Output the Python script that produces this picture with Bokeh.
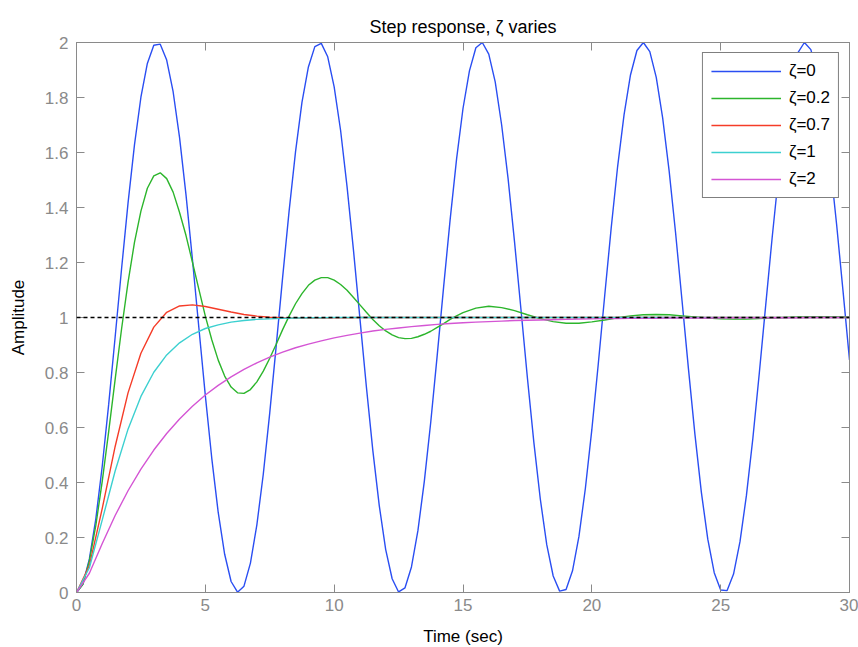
from bokeh.plotting import figure
from bokeh.models import Range1d, LinearAxis, FixedTicker, Span, Legend, LegendItem, Title
from bokeh.embed import file_html
from bokeh.resources import INLINE

# ---- data ----
# time samples, 0.5 s
t = [0, 0.5, 1, 1.5, 2, 2.5, 3, 3.5, 4, 4.5, 5, 5.5, 6, 6.5, 7, 7.5, 8, 8.5, 9, 9.5,
     10, 10.5, 11, 11.5, 12, 12.5, 13, 13.5, 14, 14.5, 15, 15.5, 16, 16.5, 17, 17.5,
     18, 18.5, 19, 19.5, 20, 20.5, 21, 21.5, 22, 22.5, 23, 23.5, 24, 24.5, 25, 25.5,
     26, 26.5, 27, 27.5, 28, 28.5, 29, 29.5, 30]

# time samples, 0.25 s (undamped curve)
t_fine = [0, 0.25, 0.5, 0.75, 1, 1.25, 1.5, 1.75, 2, 2.25, 2.5, 2.75, 3, 3.25, 3.5, 3.75,
          4, 4.25, 4.5, 4.75, 5, 5.25, 5.5, 5.75, 6, 6.25, 6.5, 6.75, 7, 7.25, 7.5, 7.75,
          8, 8.25, 8.5, 8.75, 9, 9.25, 9.5, 9.75, 10, 10.25, 10.5, 10.75, 11, 11.25, 11.5,
          11.75, 12, 12.25, 12.5, 12.75, 13, 13.25, 13.5, 13.75, 14, 14.25, 14.5, 14.75,
          15, 15.25, 15.5, 15.75, 16, 16.25, 16.5, 16.75, 17, 17.25, 17.5, 17.75, 18,
          18.25, 18.5, 18.75, 19, 19.25, 19.5, 19.75, 20, 20.25, 20.5, 20.75, 21, 21.25,
          21.5, 21.75, 22, 22.25, 22.5, 22.75, 23, 23.25, 23.5, 23.75, 24, 24.25, 24.5,
          24.75, 25, 25.25, 25.5, 25.75, 26, 26.25, 26.5, 26.75, 27, 27.25, 27.5, 27.75,
          28, 28.25, 28.5, 28.75, 29, 29.25, 29.5, 29.75, 30]

# time samples for zeta=0.2: 0.25 s up to 15, then 0.5 s
t_mixed = [0, 0.25, 0.5, 0.75, 1, 1.25, 1.5, 1.75, 2, 2.25, 2.5, 2.75, 3, 3.25, 3.5, 3.75,
           4, 4.25, 4.5, 4.75, 5, 5.25, 5.5, 5.75, 6, 6.25, 6.5, 6.75, 7, 7.25, 7.5, 7.75,
           8, 8.25, 8.5, 8.75, 9, 9.25, 9.5, 9.75, 10, 10.25, 10.5, 10.75, 11, 11.25, 11.5,
           11.75, 12, 12.25, 12.5, 12.75, 13, 13.25, 13.5, 13.75, 14, 14.25, 14.5, 14.75,
           15, 15.5, 16, 16.5, 17, 17.5, 18, 18.5, 19, 19.5, 20, 20.5, 21, 21.5, 22, 22.5,
           23, 23.5, 24, 24.5, 25, 25.5, 26, 26.5, 27, 27.5, 28, 28.5, 29, 29.5, 30]

zeta_0 = [0, 0.031, 0.122, 0.268, 0.460, 0.685, 0.929, 1.178, 1.416, 1.628, 1.801, 1.924,
          1.990, 1.994, 1.936, 1.821, 1.654, 1.446, 1.211, 0.962, 0.716, 0.488, 0.291,
          0.139, 0.040, 0.001, 0.023, 0.107, 0.246, 0.431, 0.653, 0.896, 1.146, 1.386,
          1.602, 1.782, 1.911, 1.985, 1.997, 1.948, 1.839, 1.680, 1.476, 1.244, 0.996,
          0.748, 0.517, 0.316, 0.156, 0.050, 0.002, 0.017, 0.093, 0.225, 0.405, 0.621,
          0.863, 1.113, 1.355, 1.576, 1.760, 1.897, 1.981, 2.000, 1.958, 1.857, 1.700,
          1.505, 1.275, 1.029, 0.780, 0.546, 0.340, 0.174, 0.060, 0.005, 0.011, 0.079,
          0.204, 0.379, 0.592, 0.831, 1.080, 1.324, 1.548, 1.737, 1.882, 1.971, 2.000,
          1.967, 1.873, 1.725, 1.533, 1.308, 1.062, 0.813, 0.576, 0.365, 0.194, 0.072,
          0.009, 0.007, 0.067, 0.185, 0.353, 0.561, 0.798, 1.047, 1.292, 1.520, 1.715,
          1.866, 1.963, 2.000, 1.974, 1.889, 1.748, 1.561, 1.338, 1.095, 0.846]

zeta_02 = [0, 0.030, 0.115, 0.244, 0.405, 0.586, 0.775, 0.959, 1.128, 1.273, 1.387, 1.470,
           1.515, 1.526, 1.505, 1.456, 1.382, 1.298, 1.201, 1.102, 1.005, 0.919, 0.845,
           0.787, 0.747, 0.726, 0.724, 0.738, 0.766, 0.805, 0.852, 0.903, 0.956, 1.005,
           1.050, 1.087, 1.117, 1.136, 1.145, 1.145, 1.136, 1.120, 1.099, 1.073, 1.046,
           1.019, 0.993, 0.970, 0.951, 0.937, 0.927, 0.923, 0.924, 0.930, 0.939, 0.950,
           0.964, 0.978, 0.993, 1.006, 1.018,
           1.034, 1.041, 1.036, 1.025, 1.010, 0.996, 0.985, 0.979, 0.979, 0.984, 0.991,
           0.999, 1.006, 1.010, 1.011, 1.010, 1.006, 1.002, 0.998, 0.995, 0.994, 0.994,
           0.996, 0.998, 1.000, 1.002, 1.003, 1.003, 1.003, 1.002]

zeta_07 = [0, 0.098, 0.306, 0.531, 0.726, 0.870, 0.965, 1.019, 1.042, 1.046, 1.040, 1.030,
           1.020, 1.011, 1.005, 1.001, 0.999, 0.998, 0.998, 0.998, 0.999, 0.999, 1.000,
           1.000, 1.000, 1.000, 1.000, 1.000, 1.000, 1.000, 1.000, 1.000, 1.000, 1.000,
           1.000, 1.000, 1.000, 1.000, 1.000, 1.000, 1.000, 1.000, 1.000, 1.000, 1.000,
           1.000, 1.000, 1.000, 1.000, 1.000, 1.000, 1.000, 1.000, 1.000, 1.000, 1.000,
           1.000, 1.000, 1.000, 1.000, 1.000]

zeta_1 = [0, 0.090, 0.264, 0.442, 0.594, 0.713, 0.801, 0.864, 0.908, 0.939, 0.960, 0.973,
          0.983, 0.989, 0.993, 0.995, 0.997, 0.998, 0.999, 0.999, 1.000, 1.000, 1.000,
          1.000, 1.000, 1.000, 1.000, 1.000, 1.000, 1.000, 1.000, 1.000, 1.000, 1.000,
          1.000, 1.000, 1.000, 1.000, 1.000, 1.000, 1.000, 1.000, 1.000, 1.000, 1.000,
          1.000, 1.000, 1.000, 1.000, 1.000, 1.000, 1.000, 1.000, 1.000, 1.000, 1.000,
          1.000, 1.000, 1.000, 1.000, 1.000]

zeta_2 = [0, 0.070, 0.178, 0.280, 0.370, 0.449, 0.518, 0.578, 0.631, 0.677, 0.718, 0.753,
          0.784, 0.811, 0.835, 0.856, 0.874, 0.890, 0.903, 0.915, 0.926, 0.935, 0.943,
          0.951, 0.957, 0.962, 0.967, 0.971, 0.975, 0.978, 0.981, 0.983, 0.985, 0.987,
          0.989, 0.990, 0.991, 0.992, 0.993, 0.994, 0.995, 0.996, 0.996, 0.997, 0.997,
          0.997, 0.998, 0.998, 0.998, 0.998, 0.999, 0.999, 0.999, 0.999, 0.999, 0.999,
          0.999, 1.000, 1.000, 1.000, 1.000]

series_x = [t_fine, t_mixed, t, t, t]
series = [zeta_0, zeta_02, zeta_07, zeta_1, zeta_2]
series_labels = ["ζ=0", "ζ=0.2", "ζ=0.7", "ζ=1", "ζ=2"]
series_colors = ["#2a4ef2", "#2cb52c", "#f53c28", "#3cd0d0", "#d455d4"]

final_value = 1.0
title_text = "Step response, ζ varies"

x_ticks = [0, 5, 10, 15, 20, 25, 30]
x_tick_labels = ["0", "5", "10", "15", "20", "25", "30"]
y_ticks = [0, 0.2, 0.4, 0.6, 0.8, 1, 1.2, 1.4, 1.6, 1.8, 2]
y_tick_labels = ["0", "0.2", "0.4", "0.6", "0.8", "1", "1.2", "1.4", "1.6", "1.8", "2"]

FONT = "Liberation Sans"
GRAY = "#8a8a8a"

p = figure(title=None, frame_width=773, frame_height=550,
           min_border_left=76, min_border_right=9, min_border_top=42, min_border_bottom=55,
           x_range=Range1d(0, 30), y_range=Range1d(0, 2),
           output_backend="svg", toolbar_location=None, tools="",
           background_fill_color="white", border_fill_color="white")

p.xgrid.grid_line_color = None
p.ygrid.grid_line_color = None
p.outline_line_color = GRAY


def style_axis(ax, ticks, labels, show_labels=True):
    ax.ticker = FixedTicker(ticks=ticks)
    ax.axis_line_color = GRAY
    ax.major_tick_line_color = GRAY
    ax.minor_tick_line_color = None
    ax.major_tick_in = 8
    ax.major_tick_out = 0
    if show_labels:
        ax.major_label_overrides = dict(zip(ticks, labels))
        ax.major_label_text_font = FONT
        ax.major_label_text_font_size = "17px"
        ax.major_label_text_color = GRAY
    else:
        ax.major_label_text_color = None
        ax.major_label_text_font_size = "1px"
        ax.major_label_standoff = 0


xa = p.xaxis[0]
style_axis(xa, x_ticks, x_tick_labels)
xa.major_label_standoff = 6
xa.axis_label = "Time (sec)"
xa.axis_label_text_font = FONT
xa.axis_label_text_font_size = "17px"
xa.axis_label_text_font_style = "normal"
xa.axis_label_text_color = "black"
xa.axis_label_standoff = 13

ya = p.yaxis[0]
style_axis(ya, y_ticks, y_tick_labels)
ya.major_label_standoff = 8
ya.axis_label = "Amplitude"
ya.axis_label_text_font = FONT
ya.axis_label_text_font_size = "17px"
ya.axis_label_text_font_style = "normal"
ya.axis_label_text_color = "black"
ya.axis_label_standoff = 14

# top axis (inward ticks only) next to the box
top_axis = LinearAxis()
style_axis(top_axis, x_ticks, x_tick_labels, show_labels=False)
p.add_layout(top_axis, "above")

# empty spacer axis (no ticks, no line) that keeps the title 8 px higher
spacer_axis = LinearAxis(ticker=FixedTicker(ticks=[]), axis_line_color=None,
                         major_tick_line_color=None, minor_tick_line_color=None,
                         major_tick_in=0, major_tick_out=8,
                         major_label_text_color=None, major_label_text_font_size="1px",
                         major_label_standoff=0)
p.add_layout(spacer_axis, "above")

title = Title(text=title_text, align="center", text_font=FONT, text_font_size="18px",
              text_font_style="normal", text_color="black", standoff=11)
p.add_layout(title, "above")

right_axis = LinearAxis()
style_axis(right_axis, y_ticks, y_tick_labels, show_labels=False)
p.add_layout(right_axis, "right")

items = []
for xs, ys, lab, col in zip(series_x, series, series_labels, series_colors):
    r = p.line(x=xs, y=ys, line_color=col, line_width=1.4)
    items.append(LegendItem(label=lab, renderers=[r]))

p.add_layout(Span(location=final_value, dimension="width", line_color="black",
                  line_dash="4 3", line_width=1.3))

legend = Legend(items=items, location="top_right",
                border_line_color="black", border_line_width=1,
                background_fill_color="white", background_fill_alpha=1,
                label_text_font=FONT, label_text_font_size="17px",
                label_text_color="black",
                padding=8, spacing=7, label_height=20, glyph_height=20,
                glyph_width=70, label_standoff=8, margin=10)
p.add_layout(legend)

open("out.html", "w").write(file_html(p, INLINE))
